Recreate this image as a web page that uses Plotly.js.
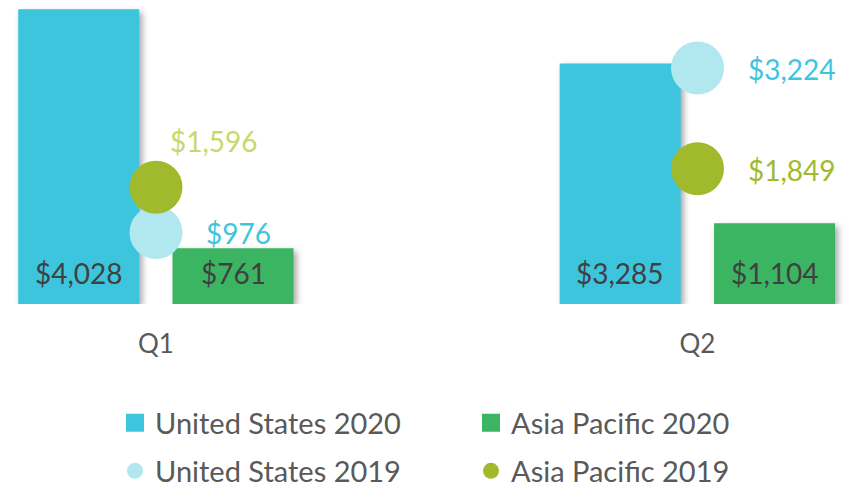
<!DOCTYPE html>
<html><head><meta charset="utf-8">
<script src="https://cdn.plot.ly/plotly-3.0.1.min.js"></script>
<style>
html,body{margin:0;padding:0;background:#fff;}
#chart{width:843px;height:488px;}
.barlayer .point path{filter:drop-shadow(3px 3px 3px rgba(0,0,0,0.35));}
.legendpoints path[d="M6,6H-6V-6H6Z"]{d:path("M9,9H-9V-9H9Z");}
</style></head><body><div id="chart"></div>
<script>
// ---- data ----
const categories = ['Q1', 'Q2'];
const us2020 = [4028, 3285];
const ap2020 = [761, 1104];
const us2019 = [976, 3224];
const ap2019 = [1596, 1849];
const seriesNames = ['United States 2020', 'Asia Pacific 2020', 'United States 2019', 'Asia Pacific 2019'];

// ---- styles ----
const FONT = 'Lato, "Open Sans", sans-serif';
const C_US20 = '#3EC5DE', C_AP20 = '#3CB563', C_US19 = '#B1E8F0', C_AP19 = '#A1BA2D';
const xIdx = categories.map((c, i) => i);
const fmt = v => '$' + v.toLocaleString('en-US');

const barW = 0.2235;
const barOffsets = [-0.2545, 0.0305];
const traces = [
  {type: 'bar', name: seriesNames[0], x: xIdx, y: us2020, width: barW, offset: barOffsets[0],
   marker: {color: C_US20}, legend: 'legend'},
  {type: 'bar', name: seriesNames[1], x: xIdx, y: ap2020, width: barW, offset: barOffsets[1],
   marker: {color: C_AP20}, legend: 'legend'},
  {type: 'scatter', mode: 'markers', name: seriesNames[2], x: xIdx, y: us2019, cliponaxis: false,
   marker: {color: C_US19, size: 53}, legend: 'legend2'},
  {type: 'scatter', mode: 'markers', name: seriesNames[3], x: xIdx, y: ap2019, cliponaxis: false,
   marker: {color: C_AP19, size: 53}, legend: 'legend2'}
];

const annotations = [];
// bar value labels, near the bar base
[us2020, ap2020].forEach((vals, k) => {
  vals.forEach((v, i) => {
    annotations.push({x: xIdx[i] + barOffsets[k] + barW / 2, y: 0, xref: 'x', yref: 'y', text: fmt(v),
      showarrow: false, xanchor: 'center', yanchor: 'middle', yshift: 31,
      font: {family: FONT, size: 28, color: '#404040'}});
  });
});
// marker label styling (offsets in px, colours)
const labelStyle = [
  {vals: us2019, colors: ['#3EC5DE', '#3EC5DE'], shifts: [[48, 0], [48, -1]]},
  {vals: ap2019, colors: ['#C6D96B', '#A1BA2D'], shifts: [[12, 46], [48, -1]]}
];
labelStyle.forEach(s => {
  s.vals.forEach((v, i) => {
    annotations.push({x: xIdx[i], y: v, xref: 'x', yref: 'y', text: fmt(v), showarrow: false,
      xanchor: 'left', yanchor: 'middle', xshift: s.shifts[i][0], yshift: s.shifts[i][1],
      font: {family: FONT, size: 28, color: s.colors[i]}});
  });
});

const legendCommon = {orientation: 'h', xref: 'container', yref: 'container', xanchor: 'left', yanchor: 'middle',
  entrywidth: 311, entrywidthmode: 'pixels', itemsizing: 'trace',
  font: {family: FONT, size: 29, color: '#595959'}, bgcolor: 'rgba(0,0,0,0)'};

const layout = {
  width: 843, height: 488,
  margin: {l: 0, r: 0, t: 0, b: 184},
  paper_bgcolor: '#fff', plot_bgcolor: '#fff',
  barmode: 'overlay',
  showlegend: true,
  xaxis: {range: [-0.2881, 1.2687], tickvals: xIdx, ticktext: categories, showgrid: false, zeroline: false,
    showline: false, ticks: '', ticklabelstandoff: 22, tickfont: {family: FONT, size: 26, color: '#595959'}, fixedrange: true},
  yaxis: {range: [0, 4153], visible: false, fixedrange: true},
  legend: Object.assign({}, legendCommon, {x: 115 / 843, y: 1 - 423 / 488}),
  legend2: Object.assign({}, legendCommon, {x: 115 / 843, y: 1 - 471 / 488}),
  annotations: annotations
};

Plotly.newPlot('chart', traces, layout, {staticPlot: true, displayModeBar: false});
</script></body></html>
